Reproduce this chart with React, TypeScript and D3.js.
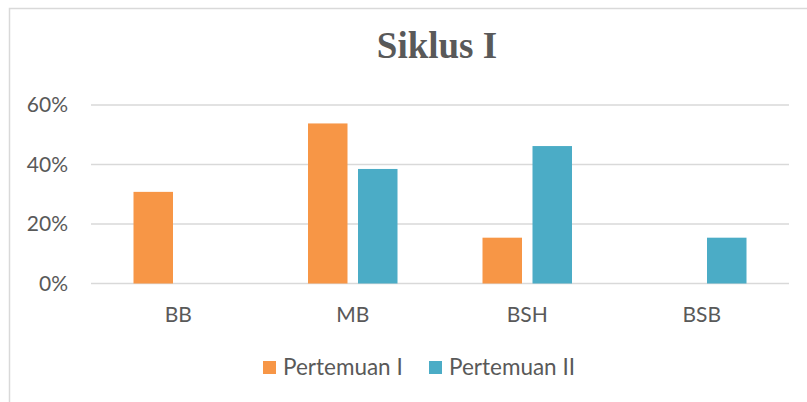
import React from "react";
import * as d3 from "d3";

const categories = ["BB", "MB", "BSH", "BSB"];
const seriesNames = ["Pertemuan I", "Pertemuan II"];
const pertemuan1 = [0.308, 0.538, 0.154, 0];
const pertemuan2 = [0, 0.385, 0.462, 0.154];
const yTicks = [0, 0.2, 0.4, 0.6];
const colors = ["#F79646", "#4BACC6"];

const W = 807;
const H = 402;
const FONT = "Lato, 'Open Sans', sans-serif";

export default function App() {
  const x0 = d3.scaleBand<string>().domain(categories).range([91, 789]).padding(0);
  const x1 = d3
    .scaleBand<string>()
    .domain(seriesNames)
    .range([0, x0.bandwidth()])
    .paddingInner(0.21)
    .paddingOuter(0.85);
  const y = d3.scaleLinear().domain([0, 0.6]).range([283.5, 105]);
  const seriesData = [pertemuan1, pertemuan2];
  const fmt = d3.format(".0%");

  return (
    <svg
      width={W}
      height={H}
      style={{ position: "absolute", left: 0, top: 0, background: "#fff" }}
    >
      <rect x={0} y={0} width={W} height={H} fill="#fff" />
      <rect x={9.5} y={8.5} width={W + 20} height={H + 20} fill="none" stroke="#D9D9D9" strokeWidth={1.5} />
      <text
        x={437}
        y={58}
        textAnchor="middle"
        fontFamily="'Liberation Serif', 'Times New Roman', serif"
        fontWeight="bold"
        fontSize={37}
        fill="#595959"
      >
        Siklus I
      </text>
      {yTicks.map((t) => (
        <g key={t}>
          <line x1={91} x2={789} y1={y(t)} y2={y(t)} stroke="#D9D9D9" strokeWidth={1.5} />
          <text
            x={68}
            y={y(t)}
            dy="0.35em"
            textAnchor="end"
            fontFamily={FONT}
            fontSize={21}
            fill="#595959"
          >
            {fmt(t)}
          </text>
        </g>
      ))}
      {categories.map((c, i) => (
        <g key={c}>
          {seriesNames.map((s, j) => {
            const v = seriesData[j][i];
            if (!v) return null;
            return (
              <rect
                key={s}
                x={(x0(c) as number) + (x1(s) as number)}
                y={y(v)}
                width={x1.bandwidth()}
                height={y(0) - y(v)}
                fill={colors[j]}
              />
            );
          })}
          <text
            x={(x0(c) as number) + x0.bandwidth() / 2}
            y={315}
            dy="0.35em"
            textAnchor="middle"
            fontFamily={FONT}
            fontSize={21}
            fill="#595959"
          >
            {c}
          </text>
        </g>
      ))}
      {seriesNames.map((s, j) => {
        const lx = [263, 429][j];
        return (
          <g key={s}>
            <rect x={lx} y={361} width={13} height={13} fill={colors[j]} />
            <text
              x={lx + 20}
              y={367.5}
              dy="0.35em"
              fontFamily={FONT}
              fontSize={22.5}
              fill="#595959"
            >
              {s}
            </text>
          </g>
        );
      })}
    </svg>
  );
}
